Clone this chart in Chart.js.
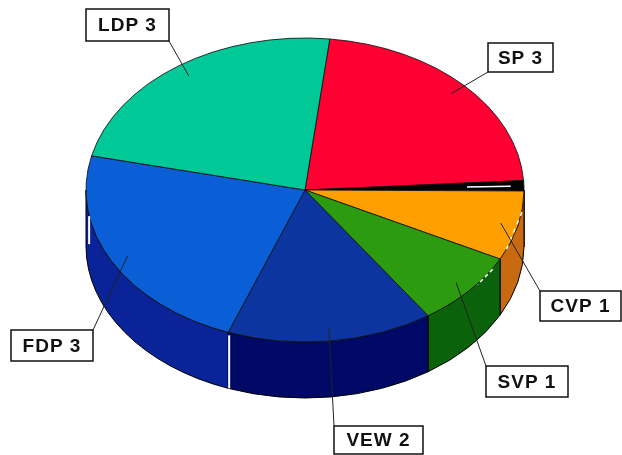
<!DOCTYPE html>
<html>
<head>
<meta charset="utf-8">
<style>
    html, body { margin: 0; padding: 0; background: #fff; }
    canvas { display: block; }
</style>
<script src="https://cdn.jsdelivr.net/npm/chart.js@4/dist/chart.umd.min.js"></script>
</head>
<body>
<canvas id="pieChart" width="622" height="455"></canvas>
<script>
const labels = ['SP 3', '', 'CVP 1', 'SVP 1', 'VEW 2', 'FDP 3', 'LDP 3'];
const shares = [22.2, 1.1, 7.4, 8.0, 15.2, 22.9, 23.2];
const topColors = ['#ff0033', '#000000', '#ffa000', '#2d9b0f', '#0c359f', '#0a5fd7', '#00c896'];
const sideColors = ['#a00020', '#000000', '#c86a10', '#0a620a', '#000a66', '#0a2399', '#008060'];

// label boxes: left, top, right, bottom, and which corner the leader line leaves from
const boxes = [
    [488, 43, 553, 72, 'bl'],
    null,
    [540, 291, 621, 321, 'tl'],
    [486, 366, 568, 397, 'tl'],
    [334, 426, 423, 454, 'tl'],
    [11, 330, 93, 361, 'tr'],
    [86, 9, 169, 41, 'br']
];

const radius = 219;
const squash = 152 / 219;
const depth = 56;
const leaderReach = 0.92;

function pointOn(arc, angle, r) {
    return {
        x: arc.x + Math.cos(angle) * r,
        y: arc.y + Math.sin(angle) * r * squash
    };
}

function whiteLine(ctx, x1, y1, x2, y2, width, dash) {
    ctx.save();
    ctx.strokeStyle = '#ffffff';
    ctx.lineWidth = width;
    ctx.setLineDash(dash || []);
    ctx.beginPath();
    ctx.moveTo(x1, y1);
    ctx.lineTo(x2, y2);
    ctx.stroke();
    ctx.restore();
}

const pie3d = {
    id: 'pie3d',
    beforeDatasetsDraw(chart) {
        const ctx = chart.ctx;
        const arcs = chart.getDatasetMeta(0).data;

        // the rim: only the part of each slice that faces the viewer
        arcs.forEach((arc, i) => {
            const a0 = Math.max(arc.startAngle, 0);
            const a1 = Math.min(arc.endAngle, Math.PI);
            if (a1 <= a0) return;
            const ry = radius * squash;
            ctx.beginPath();
            ctx.ellipse(arc.x, arc.y, radius, ry, 0, a0, a1);
            ctx.ellipse(arc.x, arc.y + depth, radius, ry, 0, a1, a0, true);
            ctx.closePath();
            ctx.fillStyle = sideColors[i];
            ctx.fill();
            ctx.strokeStyle = '#000000';
            ctx.lineWidth = 1;
            ctx.stroke();
        });

        // flatten the slices the library is about to draw
        const first = arcs[0];
        ctx.save();
        ctx.translate(first.x, first.y);
        ctx.scale(1, squash);
        ctx.translate(-first.x, -first.y);
    },
    afterDatasetsDraw(chart) {
        chart.ctx.restore();
    },
    afterDraw(chart) {
        const ctx = chart.ctx;
        const arcs = chart.getDatasetMeta(0).data;
        const deg = Math.PI / 180;

        // white scratches of the original picture
        const c = arcs[0];
        const vewEnd = pointOn(c, arcs[4].endAngle, radius);
        whiteLine(ctx, vewEnd.x + 1, vewEnd.y + 3, vewEnd.x + 1, vewEnd.y + depth, 2);
        const left = pointOn(c, 172 * deg, radius);
        whiteLine(ctx, left.x + 1, left.y + 5, left.x + 1, left.y + 33, 2);
        const s1 = pointOn(c, -1.5 * deg, radius * 0.74);
        const s2 = pointOn(c, -1.5 * deg, radius * 0.94);
        whiteLine(ctx, s1.x, s1.y, s2.x, s2.y, 1.5);
        const d1 = pointOn(c, 31 * deg, radius);
        const d2 = pointOn(c, 38 * deg, radius);
        whiteLine(ctx, d1.x, d1.y + 1, d2.x, d2.y + 1, 1.5, [4, 3]);
        const d3 = pointOn(c, 8 * deg, radius);
        const d4 = pointOn(c, 24 * deg, radius);
        whiteLine(ctx, d3.x, d3.y + 1, d4.x, d4.y + 1, 1.5, [4, 5]);

        // leaders and boxes
        arcs.forEach((arc, i) => {
            const box = boxes[i];
            if (!box) return;
            const [l, t, r, b, corner] = box;
            const mid = (arc.startAngle + arc.endAngle) / 2;
            const end = pointOn(arc, mid, radius * leaderReach);
            ctx.strokeStyle = '#222222';
            ctx.lineWidth = 1;
            ctx.beginPath();
            ctx.moveTo(corner[1] === 'l' ? l : r, corner[0] === 't' ? t : b);
            ctx.lineTo(end.x, end.y);
            ctx.stroke();

            ctx.fillStyle = '#ffffff';
            ctx.fillRect(l, t, r - l, b - t);
            ctx.strokeStyle = '#111111';
            ctx.lineWidth = 1.5;
            ctx.strokeRect(l, t, r - l, b - t);

            ctx.fillStyle = '#111111';
            ctx.font = 'bold 19px "Liberation Sans", Arial, sans-serif';
            ctx.letterSpacing = '1px';
            ctx.textAlign = 'center';
            ctx.textBaseline = 'middle';
            ctx.fillText(labels[i], (l + r) / 2, (t + b) / 2 + 1);
            ctx.letterSpacing = '0px';
        });
    }
};

new Chart(document.getElementById('pieChart'), {
    type: 'pie',
    data: {
        labels: labels,
        datasets: [{
            data: shares,
            backgroundColor: topColors,
            borderColor: '#111111',
            borderWidth: 1,
            radius: radius,
            clip: false
        }]
    },
    options: {
        responsive: false,
        animation: false,
        rotation: 6.5,
        layout: { padding: { right: 12, bottom: 75 } },
        plugins: {
            legend: { display: false },
            tooltip: { enabled: false }
        }
    },
    plugins: [pie3d]
});
</script>
</body>
</html>
